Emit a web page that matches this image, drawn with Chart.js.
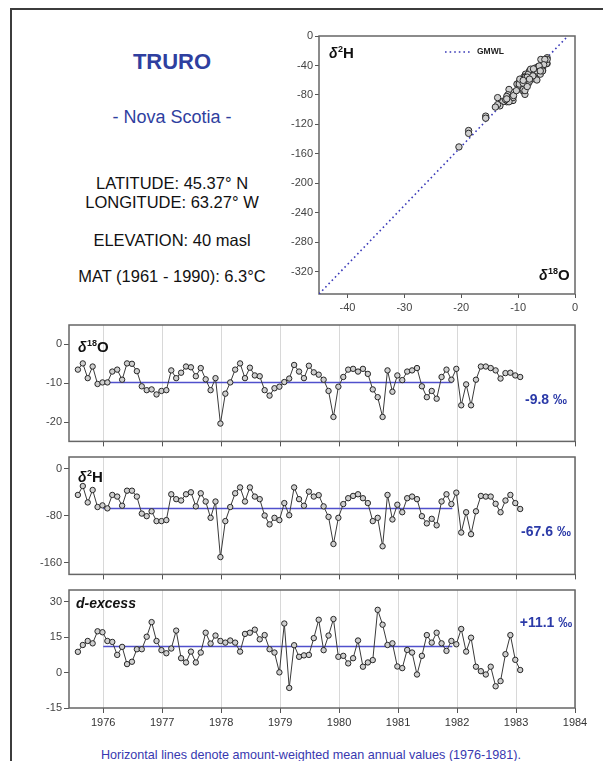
<!DOCTYPE html>
<html>
<head>
<meta charset="utf-8">
<script src="https://cdn.jsdelivr.net/npm/chart.js@4.4.0/dist/chart.umd.min.js"></script>
<style>
  body { margin: 0; background: #fff; width: 603px; height: 761px; position: relative; overflow: hidden;
         font-family: "Liberation Sans", Arial, sans-serif; }
  .border { position: absolute; left: 10px; top: 8px; width: 640px; height: 800px;
            border-left: 2px solid #3c3c3c; border-top: 2px solid #3c3c3c; }
  .info { position: absolute; left: 72px; width: 200px; text-align: center; color: #111; white-space: nowrap; }
  .blue { color: #2f3f9f; }
  canvas { position: absolute; }
  .note { position: absolute; left: 40px; width: 542px; text-align: center; color: #3838b0;
          font-size: 12.6px; line-height: 13px; top: 749px; white-space: nowrap; }
</style>
</head>
<body>
<div class="border"></div>
<div class="info blue" style="top:51px;font-size:22px;line-height:22px;font-weight:bold;">TRURO</div>
<div class="info blue" style="top:108px;font-size:18px;line-height:18px;">- Nova Scotia -</div>
<div class="info" style="top:175px;font-size:16.5px;line-height:16px;">LATITUDE: 45.37° N</div>
<div class="info" style="top:194px;font-size:16.5px;line-height:16px;">LONGITUDE: 63.27° W</div>
<div class="info" style="top:232px;font-size:16.5px;line-height:16px;">ELEVATION: 40 masl</div>
<div class="info" style="top:268px;font-size:16.5px;line-height:16px;">MAT (1961 - 1990): 6.3°C</div>

<canvas id="scatter" width="333" height="296" style="left:270px;top:20px;"></canvas>
<canvas id="p18o" width="603" height="135" style="left:0;top:315px;"></canvas>
<canvas id="p2h" width="603" height="136" style="left:0;top:447px;"></canvas>
<canvas id="pdex" width="603" height="152" style="left:0;top:580px;"></canvas>

<div class="note">Horizontal lines denote amount-weighted mean annual values (1976-1981).</div>

<script>
// Monthly samples, Jul 1975 - Jan 1983 (values in permil)
const o18 = [
  -6.5, -4.9, -8.7, -5.7, -10.2, -9.8, -9.8, -7.0, -6.5, -9.1,
  -4.9, -5.0, -6.9, -10.8, -11.8, -11.6, -12.9, -12.0, -11.8, -6.7,
  -8.7, -7.3, -5.7, -5.9, -8.2, -6.1, -9.0, -11.8, -8.7, -20.4,
  -12.7, -9.8, -6.5, -4.9, -8.7, -6.0, -8.0, -8.2, -11.8, -13.2,
  -11.3, -10.9, -9.7, -8.8, -5.3, -7.0, -8.7, -5.5, -7.2, -7.8,
  -9.1, -12.0, -18.7, -10.9, -8.4, -6.5, -6.3, -7.0, -6.3, -7.6,
  -11.6, -13.6, -18.7, -6.7, -12.2, -8.0, -9.2, -7.0, -6.7, -6.1,
  -10.8, -13.6, -12.0, -14.0, -8.4, -6.5, -9.1, -6.3, -15.7, -10.3,
  -15.7, -9.1, -5.7, -5.7, -6.1, -6.7, -8.8, -7.4, -7.3, -8.0, -8.4
];
const h2 = [
  -44.6, -29.5, -57.4, -36.2, -65.2, -62.4, -67.5, -44.6, -47.4, -63.0,
  -37.4, -37.4, -47.4, -76.4, -80.8, -72.5, -89.2, -89.2, -87.5, -43.5,
  -51.8, -54.1, -43.5, -40.1, -64.1, -41.8, -55.8, -83.6, -55.8, -150.5,
  -89.2, -65.2, -41.8, -31.8, -55.8, -31.8, -47.4, -51.8, -79.7, -94.8,
  -83.6, -87.5, -58.5, -79.2, -31.8, -51.8, -63.0, -39.0, -47.4, -45.0,
  -64.1, -82.0, -128.2, -83.6, -60.2, -50.2, -46.3, -43.5, -50.2, -58.5,
  -89.2, -83.6, -132.1, -44.6, -86.4, -61.3, -74.1, -50.2, -47.4, -51.8,
  -80.8, -93.1, -85.3, -96.4, -55.8, -43.5, -60.2, -40.7, -108.7, -74.1,
  -111.5, -72.5, -46.3, -47.4, -47.4, -59.7, -74.1, -54.1, -44.6, -58.5, -68.6
];
const dexcess = [
  8.8, 11.7, 13.4, 12.4, 17.5, 17.1, 13.4, 13.0, 7.5, 10.9,
  3.6, 4.6, 9.9, 9.9, 15.2, 21.4, 13.4, 9.5, 8.2, 10.2,
  17.8, 6.1, 4.3, 8.9, 4.3, 8.5, 16.9, 12.3, 15.7, 13.4,
  12.7, 13.6, 12.7, 8.9, 16.4, 16.9, 18.2, 14.1, 15.9, 9.9,
  8.5, 0.1, 20.8, -6.5, 11.6, 6.7, 7.3, 7.5, 14.6, 22.4,
  9.5, 15.7, 22.7, 6.7, 7.1, 3.9, 6.1, 13.6, 2.5, 4.3,
  5.3, 26.6, 20.3, 11.7, 12.4, 2.6, 1.9, 9.6, 8.5, -0.8,
  7.1, 15.9, 12.7, 16.9, 12.4, 9.2, 13.4, 12.0, 18.5, 8.9,
  14.8, 2.5, 0.6, -0.8, 2.5, -5.8, -3.6, 7.8, 15.9, 5.4, 1.1
];
// amount-weighted means 1976-1981
const meanValues = [-9.8, -67.6, 11.1];
const meanLabels = ['-9.8 ‰', '-67.6 ‰', '+11.1 ‰'];
const meanPeriod = [1976, 1981.92];

const yearTicks = [1976, 1977, 1978, 1979, 1980, 1981, 1982, 1983, 1984];
const o18Ticks = [-20, -10, 0];
const h2Ticks = [-160, -80, 0];
const dexTicks = [-15, 0, 15, 30];
const scatterXTicks = [-40, -30, -20, -10, 0];
const scatterYTicks = [-320, -280, -240, -200, -160, -120, -80, -40, 0];
const gmwl = [8, 10]; // slope, intercept

// sample dates as decimal years (monthly from Jul 1975)
const sampleDates = [];
for (let i = 0; i < o18.length; i++) sampleDates.push(1975 + (6.85 + i) / 12);

const FONT = '"Liberation Sans", Arial, sans-serif';
const AXIS = '#555';

const framePlugin = {
  id: 'frame',
  beforeDatasetsDraw(chart) {
    const { ctx, chartArea: a } = chart;
    ctx.save();
    ctx.strokeStyle = '#666';
    ctx.lineWidth = 1.5;
    ctx.strokeRect(a.left, a.top, a.width, a.height);
    ctx.restore();
  }
};

function textPlugin(draw) {
  return {
    id: 'texts',
    afterDraw(chart) {
      const ctx = chart.ctx;
      ctx.save();
      draw(ctx, chart.chartArea);
      ctx.restore();
    }
  };
}

function drawIsotope(ctx, x, y, sup, letter) {
  ctx.fillStyle = '#111';
  ctx.textAlign = 'left';
  ctx.textBaseline = 'alphabetic';
  ctx.font = 'italic bold 14px ' + FONT;
  ctx.fillText('δ', x, y);
  x += ctx.measureText('δ').width + 0.5;
  ctx.font = 'bold 9px ' + FONT;
  ctx.fillText(sup, x, y - 6);
  x += ctx.measureText(sup).width;
  ctx.font = 'bold 15px ' + FONT;
  ctx.fillText(letter, x, y);
}

function fixedTicks(list) {
  return scale => { scale.ticks = list.map(v => ({ value: v })); };
}

function makePanel(id, values, meanIdx, range, ticks, showYears, drawLabel) {
  const pts = values.map((v, i) => ({ x: sampleDates[i], y: v }));
  new Chart(document.getElementById(id), {
    type: 'scatter',
    data: {
      datasets: [{
        data: pts,
        showLine: true,
        borderColor: '#3a3a3a',
        borderWidth: 1,
        pointRadius: 2.7,
        pointBorderWidth: 1,
        pointBackgroundColor: '#cfcfcf',
        pointBorderColor: '#262626'
      }, {
        data: meanPeriod.map(x => ({ x: x, y: meanValues[meanIdx] })),
        showLine: true,
        borderColor: '#5050cc',
        borderWidth: 1.5,
        pointRadius: 0
      }]
    },
    options: {
      responsive: false,
      animation: false,
      devicePixelRatio: 1,
      layout: { padding: { top: 10, right: 28, left: 0, bottom: 0 } },
      plugins: { legend: { display: false }, tooltip: { enabled: false } },
      scales: {
        x: {
          type: 'linear', min: 1975.42, max: 1984,
          afterBuildTicks: fixedTicks(yearTicks),
          afterFit: s => { s.height = showYears ? 24 : 6; },
          border: { display: false },
          grid: { color: '#d8d8d8', lineWidth: 1, drawTicks: true, tickLength: 5, tickColor: AXIS },
          ticks: { display: showYears, autoSkip: false, maxRotation: 0, padding: 3,
                   color: '#333', font: { family: FONT, size: 11 }, callback: v => String(v) }
        },
        y: {
          min: range[0], max: range[1],
          afterBuildTicks: fixedTicks(ticks),
          afterFit: s => { s.width = 69; },
          border: { display: false },
          grid: { drawOnChartArea: false, drawTicks: true, tickLength: 5, tickColor: AXIS },
          ticks: { padding: 2, color: '#444', font: { family: FONT, size: 11 }, callback: v => String(v) }
        }
      }
    },
    plugins: [framePlugin, textPlugin((ctx, a) => {
      drawLabel(ctx, a);
      ctx.fillStyle = '#2b3aa8';
      ctx.font = 'bold 14px ' + FONT;
      ctx.textAlign = 'center';
      ctx.textBaseline = 'middle';
      const dy = meanIdx === 2 ? 33.5 : 75;
      ctx.fillText(meanLabels[meanIdx], a.right - 29, a.top + dy);
    })]
  });
}

makePanel('p18o', o18, 0, [-25, 5], o18Ticks, false,
  (ctx, a) => drawIsotope(ctx, a.left + 9, a.top + 27, '18', 'O'));
makePanel('p2h', h2, 1, [-180, 20], h2Ticks, false,
  (ctx, a) => drawIsotope(ctx, a.left + 9, a.top + 25, '2', 'H'));
makePanel('pdex', dexcess, 2, [-15, 35], dexTicks, true, (ctx, a) => {
  ctx.fillStyle = '#111';
  ctx.font = 'italic bold 14px ' + FONT;
  ctx.textAlign = 'left';
  ctx.textBaseline = 'alphabetic';
  ctx.fillText('d-excess', a.left + 7, a.top + 18);
});

// delta2H vs delta18O with the global meteoric water line
const xRange = [-45, 0], yRange = [-350, 0];
const gmwlLine = [
  { x: xRange[0], y: gmwl[0] * xRange[0] + gmwl[1] },
  { x: (yRange[1] - gmwl[1]) / gmwl[0], y: yRange[1] }
];
new Chart(document.getElementById('scatter'), {
  type: 'scatter',
  data: {
    datasets: [{
      data: o18.map((v, i) => ({ x: v, y: h2[i] })),
      pointRadius: 3.2,
      pointBorderWidth: 1,
      pointBackgroundColor: '#cfcfcf',
      pointBorderColor: '#2a2a2a'
    }, {
      data: gmwlLine,
      showLine: true,
      pointRadius: 0,
      borderColor: '#3a3ab8',
      borderWidth: 1.6,
      borderDash: [1.6, 3]
    }]
  },
  options: {
    responsive: false,
    animation: false,
    devicePixelRatio: 1,
    layout: { padding: { top: 16, right: 28, left: 0, bottom: 0 } },
    plugins: { legend: { display: false }, tooltip: { enabled: false } },
    scales: {
      x: {
        min: xRange[0], max: xRange[1],
        afterBuildTicks: fixedTicks(scatterXTicks),
        afterFit: s => { s.height = 22; },
        border: { display: false },
        grid: { drawOnChartArea: false, drawTicks: true, tickLength: 4, tickColor: AXIS },
        ticks: { padding: 3, color: '#444', font: { family: FONT, size: 11 }, callback: v => String(v) }
      },
      y: {
        min: yRange[0], max: yRange[1],
        afterBuildTicks: fixedTicks(scatterYTicks),
        afterFit: s => { s.width = 49; },
        border: { display: false },
        grid: { drawOnChartArea: false, drawTicks: true, tickLength: 4, tickColor: AXIS },
        ticks: { padding: 2, color: '#444', font: { family: FONT, size: 11 }, callback: v => String(v) }
      }
    }
  },
  plugins: [framePlugin, textPlugin((ctx, a) => {
    drawIsotope(ctx, a.left + 10, a.top + 22, '2', 'H');
    drawIsotope(ctx, a.left + 220, a.top + 244, '18', 'O');
    // GMWL legend
    ctx.strokeStyle = '#3a3ab8';
    ctx.lineWidth = 1.6;
    ctx.setLineDash([1.6, 3]);
    ctx.beginPath();
    ctx.moveTo(a.left + 126, a.top + 16);
    ctx.lineTo(a.left + 152, a.top + 16);
    ctx.stroke();
    ctx.setLineDash([]);
    ctx.fillStyle = '#222';
    ctx.font = 'bold 8.5px ' + FONT;
    ctx.textAlign = 'left';
    ctx.textBaseline = 'middle';
    ctx.fillText('GMWL', a.left + 158, a.top + 16);
  })]
});
</script>
</body>
</html>
